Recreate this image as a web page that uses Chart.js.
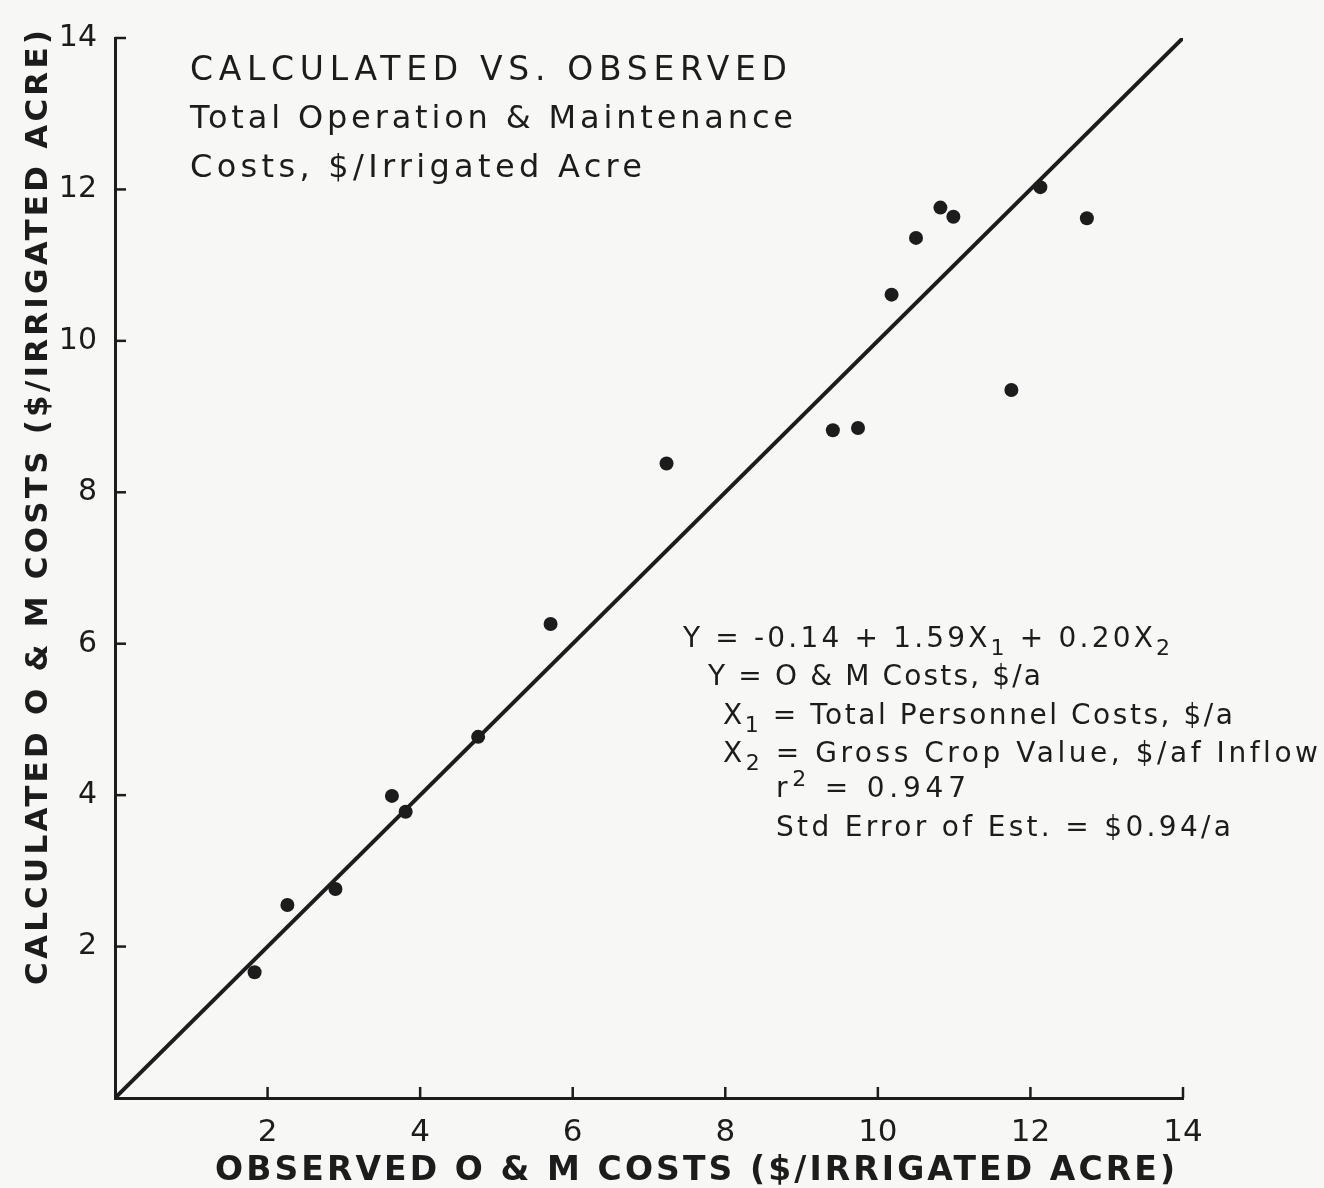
<!DOCTYPE html>
<html>
<head>
<meta charset="utf-8">
<script src="https://cdn.jsdelivr.net/npm/chart.js@4.4.1/dist/chart.umd.min.js"></script>
<style>
  html, body { margin: 0; padding: 0; background: #f7f7f5; overflow: hidden; }
  canvas { display: block; }
</style>
</head>
<body>
<canvas id="om" width="1324" height="1188"></canvas>
<script>
// observed vs calculated O&M costs, $/irrigated acre
const observed = [1.83, 2.26, 2.89, 3.63, 3.81, 4.76, 5.71, 7.23, 9.41, 9.74, 10.18, 10.50, 10.82, 10.99, 11.75, 12.13, 12.74];
const calculated = [1.66, 2.55, 2.76, 3.99, 3.78, 4.77, 6.26, 8.38, 8.82, 8.85, 10.61, 11.36, 11.76, 11.64, 9.35, 12.03, 11.62];

// 1:1 line
const lineX = [0, 14];
const lineY = [0, 14];

const xTicks = [2, 4, 6, 8, 10, 12, 14];
const yTicks = [2, 4, 6, 8, 10, 12, 14];

const titleLines = ["CALCULATED VS. OBSERVED", "Total Operation & Maintenance", "Costs, $/Irrigated Acre"];
// _c = subscript char, ^c = superscript char
const noteLines = [
    "Y = -0.14 + 1.59X_1 + 0.20X_2",
    "Y = O & M Costs, $/a",
    "X_1 = Total Personnel Costs, $/a",
    "X_2 = Gross Crop Value, $/af Inflow",
    "r^2 = 0.947",
    "Std Error of Est. = $0.94/a"
];
const xTitle = "OBSERVED O & M COSTS ($/IRRIGATED ACRE)";
const yTitle = "CALCULATED O & M COSTS ($/IRRIGATED ACRE)";

const ink = "#1c1c1c";
const FONT = "'DejaVu Sans', sans-serif";

// draw text stretched with letter spacing to a given width
function fitText(ctx, text, x, y, width, font) {
    ctx.font = font;
    ctx.letterSpacing = "0px";
    const w = ctx.measureText(text).width;
    const gap = width ? (width - w) / Math.max(text.length - 1, 1) : 0;
    ctx.letterSpacing = gap + "px";
    ctx.fillText(text, x, y);
    ctx.letterSpacing = "0px";
}

// text with simple sub/superscripts, stretched to width
function richText(ctx, src, x, y, width, size) {
    const parts = [];
    for (let i = 0; i < src.length; i++) {
        const c = src[i];
        if ((c === "_" || c === "^") && i + 1 < src.length) {
            parts.push({ t: src[i + 1], kind: c });
            i++;
        } else {
            const last = parts[parts.length - 1];
            if (last && last.kind === "n") last.t += c;
            else parts.push({ t: c, kind: "n" });
        }
    }
    const small = Math.round(size * 0.78);
    let w = 0, n = 0;
    parts.forEach(p => {
        ctx.font = (p.kind === "n" ? size : small) + "px " + FONT;
        ctx.letterSpacing = "0px";
        p.w = ctx.measureText(p.t).width;
        w += p.w;
        n += p.t.length;
    });
    const gap = (width - w) / Math.max(n - 1, 1);
    let cx = x;
    parts.forEach(p => {
        ctx.font = (p.kind === "n" ? size : small) + "px " + FONT;
        ctx.letterSpacing = gap + "px";
        const dy = p.kind === "_" ? size * 0.3 : p.kind === "^" ? -size * 0.38 : 0;
        ctx.fillText(p.t, cx, y + dy);
        cx += p.w + gap * p.t.length;
    });
    ctx.letterSpacing = "0px";
}

const decor = {
    id: "decor",
    beforeDraw(chart) {
        const ctx = chart.ctx;
        ctx.save();
        ctx.fillStyle = "#f7f7f5";
        ctx.fillRect(0, 0, chart.width, chart.height);
        ctx.restore();
    },
    afterDraw(chart) {
        const ctx = chart.ctx;
        const xs = chart.scales.x, ys = chart.scales.y;
        const area = chart.chartArea;
        ctx.save();
        ctx.strokeStyle = ink;
        ctx.lineWidth = 2.5;
        // inward tick marks
        xs.ticks.forEach(t => {
            const px = xs.getPixelForValue(t.value);
            ctx.beginPath();
            ctx.moveTo(px, area.bottom);
            ctx.lineTo(px, area.bottom - 11);
            ctx.stroke();
        });
        ys.ticks.forEach(t => {
            const py = ys.getPixelForValue(t.value);
            ctx.beginPath();
            ctx.moveTo(area.left, py);
            ctx.lineTo(area.left + 11, py);
            ctx.stroke();
        });

        ctx.fillStyle = ink;
        ctx.textBaseline = "alphabetic";
        ctx.textAlign = "left";
        fitText(ctx, titleLines[0], 190, 80, 597, "33px " + FONT);
        fitText(ctx, titleLines[1], 190, 128, 603, "32px " + FONT);
        fitText(ctx, titleLines[2], 190, 177, 452, "32px " + FONT);

        const noteX = [683, 708, 723, 723, 776, 776];
        const noteY = [647, 685, 724, 762, 797, 836];
        const noteW = [487, 333, 510, 595, 190, 455];
        noteLines.forEach((s, i) => richText(ctx, s, noteX[i], noteY[i], noteW[i], 28));

        // axis titles
        fitText(ctx, xTitle, 215, 1180, 960, "bold 33px " + FONT);
        ctx.translate(47, 985);
        ctx.rotate(-Math.PI / 2);
        fitText(ctx, yTitle, 0, 0, 955, "bold 31px " + FONT);
        ctx.restore();
    }
};

new Chart("om", {
    type: "scatter",
    data: {
        datasets: [{
            type: "line",
            data: lineX.map((x, i) => ({ x: x, y: lineY[i] })),
            borderColor: ink,
            borderWidth: 4,
            pointRadius: 0,
            fill: false
        }, {
            data: observed.map((x, i) => ({ x: x, y: calculated[i] })),
            backgroundColor: ink,
            borderColor: ink,
            pointRadius: 7,
            pointBorderWidth: 0
        }]
    },
    options: {
        responsive: false,
        animation: false,
        layout: { padding: { top: 38, right: 141, left: 0, bottom: 0 } },
        plugins: { legend: { display: false }, tooltip: { enabled: false } },
        scales: {
            x: {
                type: "linear", min: 0, max: 14,
                afterBuildTicks: s => { s.ticks = xTicks.map(v => ({ value: v })); },
                afterFit: s => { s.height = 90; },
                grid: { display: false },
                border: { display: true, color: ink, width: 3 },
                ticks: { color: ink, font: { family: FONT, size: 31 }, padding: 8, maxRotation: 0 }
            },
            y: {
                type: "linear", min: 0, max: 14,
                afterBuildTicks: s => { s.ticks = yTicks.map(v => ({ value: v })); },
                afterFit: s => { s.width = 115; },
                grid: { display: false },
                border: { display: true, color: ink, width: 3 },
                ticks: { color: ink, font: { family: FONT, size: 30 }, padding: 10 }
            }
        }
    },
    plugins: [decor]
});
</script>
</body>
</html>
